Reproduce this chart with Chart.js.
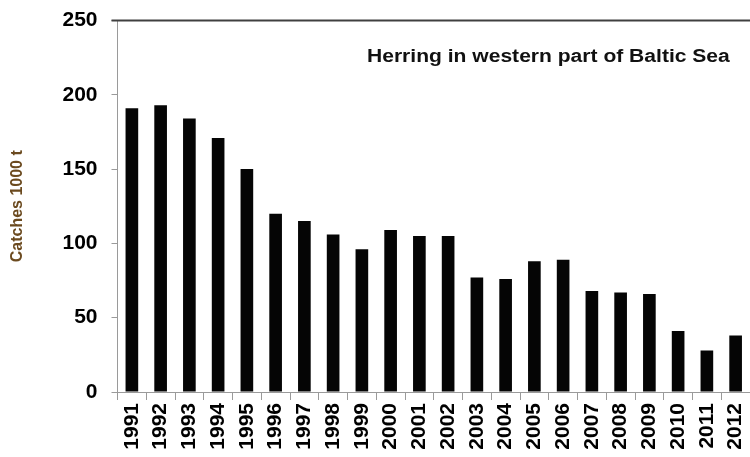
<!DOCTYPE html>
<html>
<head>
<meta charset="utf-8">
<script src="https://cdn.jsdelivr.net/npm/chart.js@4/dist/chart.umd.min.js"></script>
<style>
  html, body { margin: 0; padding: 0; background: #fff; overflow: hidden; }
  #wrap { width: 750px; height: 457px; position: relative; }
</style>
</head>
<body>
<div id="wrap"><canvas id="c" width="750" height="457"></canvas></div>
<script>
// Annual herring catches, western Baltic (thousand tonnes)
const years = ['1991','1992','1993','1994','1995','1996','1997','1998','1999','2000','2001',
               '2002','2003','2004','2005','2006','2007','2008','2009','2010','2011','2012'];
const catches = [191, 193, 184, 171, 150, 120, 115, 106, 96, 109, 105,
                 105, 77, 76, 88, 89, 68, 67, 66, 41, 28, 38];
const yTicks = [0, 50, 100, 150, 200, 250];
const chartTitle = 'Herring in western part of Baltic Sea';
const yTitle = 'Catches 1000 t';

const FONT = "'Liberation Sans', Arial, sans-serif";

// Dark frame line along the top of the plot and the caption inside the plot
const framePlugin = {
  id: 'frame',
  afterDraw(chart) {
    const { ctx, chartArea } = chart;
    ctx.save();
    ctx.strokeStyle = '#404040';
    ctx.lineWidth = 2;
    ctx.beginPath();
    ctx.moveTo(chartArea.left - 6, chartArea.top);
    ctx.lineTo(chartArea.right, chartArea.top);
    ctx.stroke();

    ctx.fillStyle = '#111';
    ctx.font = 'bold 18px ' + FONT;
    ctx.textBaseline = 'middle';
    ctx.textAlign = 'left';
    ctx.translate(367, 57);
    ctx.scale(1.17, 1);
    ctx.fillText(chartTitle, 0, 0);
    ctx.restore();
  }
};

new Chart(document.getElementById('c'), {
  type: 'bar',
  data: {
    labels: years,
    datasets: [{
      data: catches,
      backgroundColor: '#050505',
      borderWidth: 0,
      categoryPercentage: 1,
      barPercentage: 0.44
    }]
  },
  options: {
    responsive: false,
    animation: false,
    events: [],
    layout: { padding: { top: 20.5, right: 0, bottom: 0, left: 0 } },
    plugins: { legend: { display: false }, tooltip: { enabled: false }, title: { display: false } },
    scales: {
      x: {
        offset: true,
        grid: { offset: true, drawOnChartArea: false, tickLength: 8, color: '#9a9a9a', lineWidth: 1 },
        border: { color: '#9a9a9a', width: 1 },
        ticks: {
          minRotation: 90, maxRotation: 90, autoSkip: false, padding: 3,
          color: '#000', font: { family: FONT, size: 21, weight: 'bold' }
        },
        afterFit(s) { s.height = 65; s.paddingLeft = 0; s.paddingRight = 0; }
      },
      y: {
        min: 0, max: 250,
        afterBuildTicks(s) { s.ticks = yTicks.map(v => ({ value: v })); },
        grid: { drawOnChartArea: false, tickLength: 6, color: '#9a9a9a', lineWidth: 1 },
        border: { color: '#9a9a9a', width: 1 },
        ticks: { padding: 14, color: '#000', font: { family: FONT, size: 21, weight: 'bold' } },
        title: {
          display: true, text: yTitle, color: '#6b4a1f',
          padding: { top: 8, bottom: 0 },
          font: { family: FONT, size: 16, weight: 'bold' }
        },
        afterFit(s) { s.width = 117.5; s.paddingTop = 0; s.paddingBottom = 0; }
      }
    }
  },
  plugins: [framePlugin]
});
</script>
</body>
</html>
